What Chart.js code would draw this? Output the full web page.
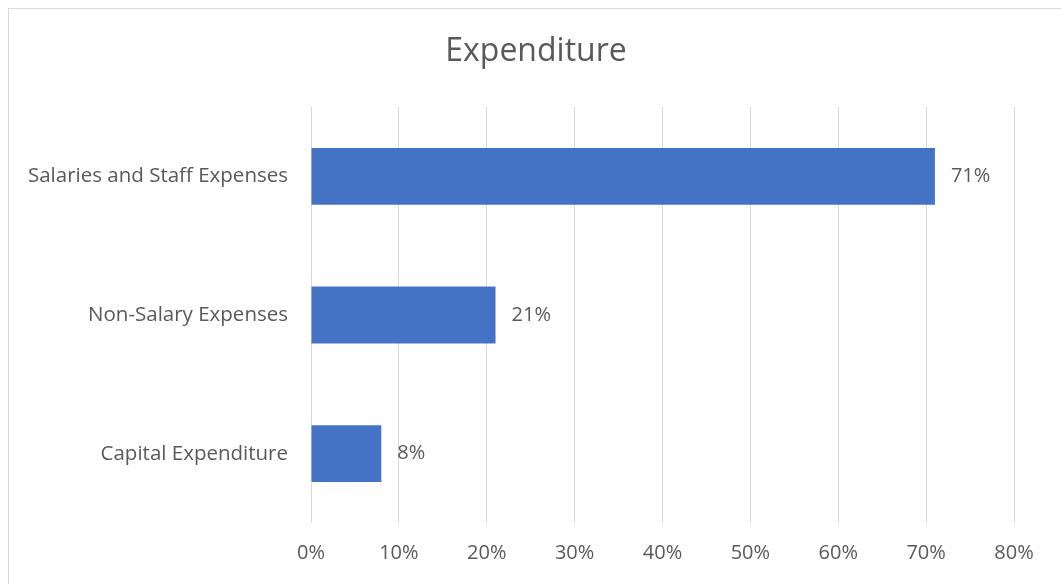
<!DOCTYPE html>
<html>
<head>
<meta charset="utf-8">
<script src="https://cdn.jsdelivr.net/npm/chart.js@4/dist/chart.umd.min.js"></script>
<style>
  body { margin: 0; background: #fff; overflow: hidden; }
  .frame { position: absolute; left: 8px; top: 8px; width: 1100px; height: 700px; border: 1px solid #d9d9d9; }
  #graph { position: absolute; left: 0; top: 0; }
</style>
</head>
<body>
<div class="frame"></div>
<canvas id="graph" width="1061" height="584"></canvas>
<script>
const categories = ['Salaries and Staff Expenses', 'Non-Salary Expenses', 'Capital Expenditure']
const shares = [71, 21, 8]
const tickMax = 80
const tickStep = 10

const grey = '#595959'
const fontFamily = "'Open Sans', 'Noto Sans', sans-serif"

// value labels next to each bar end
const barLabels = {
  id: 'barLabels',
  afterDatasetsDraw(chart) {
    const ctx = chart.ctx
    const meta = chart.getDatasetMeta(0)
    ctx.save()
    ctx.font = '20px ' + fontFamily
    ctx.fillStyle = grey
    ctx.textAlign = 'left'
    ctx.textBaseline = 'middle'
    meta.data.forEach((bar, i) => {
      ctx.fillText(shares[i] + '%', bar.x + 16, bar.y)
    })
    ctx.restore()
  }
}

new Chart(document.getElementById('graph').getContext('2d'), {
  type: 'bar',
  data: {
    labels: categories,
    datasets: [{
      label: 'Expenditure',
      data: shares,
      backgroundColor: '#4472C4',
      categoryPercentage: 1,
      barPercentage: 0.41
    }]
  },
  options: {
    indexAxis: 'y',
    responsive: false,
    animation: false,
    layout: { padding: { left: 11, right: 0, top: 0, bottom: 0 } },
    plugins: {
      legend: { display: false },
      tooltip: { enabled: false },
      title: {
        display: true,
        text: 'Expenditure',
        color: grey,
        font: { family: fontFamily, size: 32, weight: 'normal', lineHeight: 1.2 },
        padding: { top: 33, bottom: 35.6 }
      }
    },
    scales: {
      x: {
        min: 0,
        max: tickMax,
        grid: { color: '#d9d9d9', lineWidth: 1, drawTicks: false },
        border: { display: false },
        ticks: {
          stepSize: tickStep,
          color: grey,
          padding: 18,
          font: { family: fontFamily, size: 20 },
          callback: v => v + '%'
        },
        afterFit(scale) { scale.height = 61 }
      },
      y: {
        grid: { display: false, drawTicks: false },
        border: { display: false },
        ticks: {
          color: grey,
          padding: 23,
          font: { family: fontFamily, size: 20.5 }
        },
        afterFit(scale) { scale.width = 300 }
      },
      // empty right-hand gutter
      yRight: {
        type: 'category',
        position: 'right',
        grid: { display: false, drawTicks: false },
        border: { display: false },
        ticks: { display: false },
        afterFit(scale) { scale.width = 47 }
      }
    }
  },
  plugins: [barLabels]
})
</script>
</body>
</html>
